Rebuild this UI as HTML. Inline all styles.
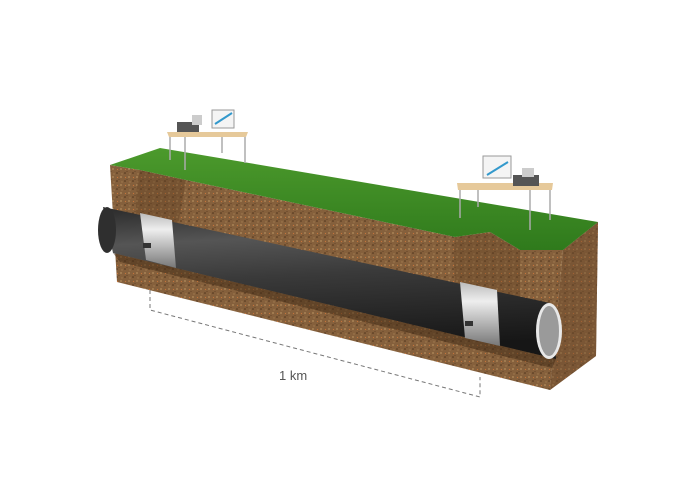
<!DOCTYPE html>
<html><head><style>html,body{margin:0;padding:0;background:#fff}svg{display:block}</style></head>
<body>
<svg width="700" height="500" viewBox="0 0 700 500" xmlns="http://www.w3.org/2000/svg">
<defs>
<linearGradient id="pipe" x1="0" y1="0" x2="0.15" y2="1">
<stop offset="0" stop-color="#2a2a2a"/><stop offset="0.25" stop-color="#555"/><stop offset="0.5" stop-color="#3a3a3a"/><stop offset="1" stop-color="#161616"/>
</linearGradient>
<linearGradient id="col" x1="0" y1="0" x2="0" y2="1">
<stop offset="0" stop-color="#bbb"/><stop offset="0.3" stop-color="#eee"/><stop offset="1" stop-color="#777"/>
</linearGradient>
<linearGradient id="grass" x1="0" y1="0" x2="0" y2="1">
<stop offset="0" stop-color="#4c9a2c"/><stop offset="1" stop-color="#2f7a1c"/>
</linearGradient>
<pattern id="dirt" width="8" height="8" patternUnits="userSpaceOnUse">
<rect width="8" height="8" fill="#85603c"/><circle cx="1" cy="1" r="0.9" fill="#b48d5c"/><circle cx="5" cy="5" r="0.8" fill="#4f331c"/><circle cx="5.5" cy="1.5" r="0.6" fill="#c8743a"/><circle cx="2" cy="6" r="0.7" fill="#a27c50"/><circle cx="7" cy="3.5" r="0.5" fill="#5a3a20"/>
</pattern>
</defs>
<!-- right side face -->
<polygon points="563,250 598,222 596,356 550,390" fill="#6a482a"/>
<polygon points="563,250 598,222 596,356 550,390" fill="url(#dirt)" opacity="0.6"/>
<!-- front face -->
<polygon points="110,165 117,282 550,390 563,250 520,250 490,232 455,237 186,180 140,170" fill="url(#dirt)"/>
<path d="M140,170 Q132,200 140,250 L170,270 L186,180 Z" fill="#5c3b20" opacity="0.35"/>
<path d="M455,237 Q450,290 470,340 L520,350 L520,250 L490,232 Z" fill="#5c3b20" opacity="0.3"/>
<!-- grass -->
<polygon points="110,165 160,148 598,222 563,250 520,250 490,232 455,237 186,180 140,170" fill="url(#grass)"/>
<!-- pipe shadow -->
<polygon points="113,253 556,359 552,368 120,262" fill="#3d2814" opacity="0.5"/>
<!-- pipe -->
<polygon points="103,207 550,303 556,359 113,253" fill="url(#pipe)"/>
<ellipse cx="107" cy="230" rx="9" ry="23" fill="#2f2f2f"/>
<!-- collars -->
<polygon points="140,213 172,220 176,268 146,260" fill="url(#col)"/>
<polygon points="460,282 497,290 500,346 465,338" fill="url(#col)"/>
<rect x="143" y="243" width="8" height="5" fill="#333"/>
<rect x="465" y="321" width="8" height="5" fill="#333"/>
<!-- pipe end -->
<ellipse cx="549" cy="331" rx="13" ry="28" fill="#e8e8e8"/>
<ellipse cx="549" cy="331" rx="10" ry="25" fill="#9a9a9a"/>
<!-- tables -->
<g stroke="#aaa" stroke-width="1.5">
<line x1="170" y1="137" x2="170" y2="160"/><line x1="185" y1="137" x2="185" y2="170"/><line x1="245" y1="137" x2="245" y2="163"/><line x1="222" y1="137" x2="222" y2="153"/>
<line x1="460" y1="190" x2="460" y2="218"/><line x1="478" y1="190" x2="478" y2="207"/><line x1="530" y1="190" x2="530" y2="230"/><line x1="550" y1="190" x2="550" y2="220"/>
</g>
<polygon points="167,132 248,132 246,137 169,137" fill="#e6c99a"/>
<polygon points="457,183 553,183 552,190 458,190" fill="#e6c99a"/>
<rect x="177" y="122" width="22" height="10" fill="#555"/><rect x="192" y="115" width="10" height="10" fill="#ccc"/>
<rect x="212" y="110" width="22" height="18" fill="#f4f4f4" stroke="#999"/><line x1="215" y1="124" x2="232" y2="113" stroke="#39c" stroke-width="2"/>
<rect x="483" y="156" width="28" height="22" fill="#f4f4f4" stroke="#999"/><line x1="487" y1="175" x2="508" y2="162" stroke="#39c" stroke-width="2"/>
<rect x="513" y="175" width="26" height="11" fill="#555"/><rect x="522" y="168" width="12" height="9" fill="#ccc"/>
<!-- dimension -->
<polyline points="150,290 150,310 480,397 480,377" fill="none" stroke="#777" stroke-width="1" stroke-dasharray="4,3"/>
<text x="279" y="380" font-family="Liberation Sans, sans-serif" font-size="13" fill="#555">1 km</text>
</svg>
</body></html>
